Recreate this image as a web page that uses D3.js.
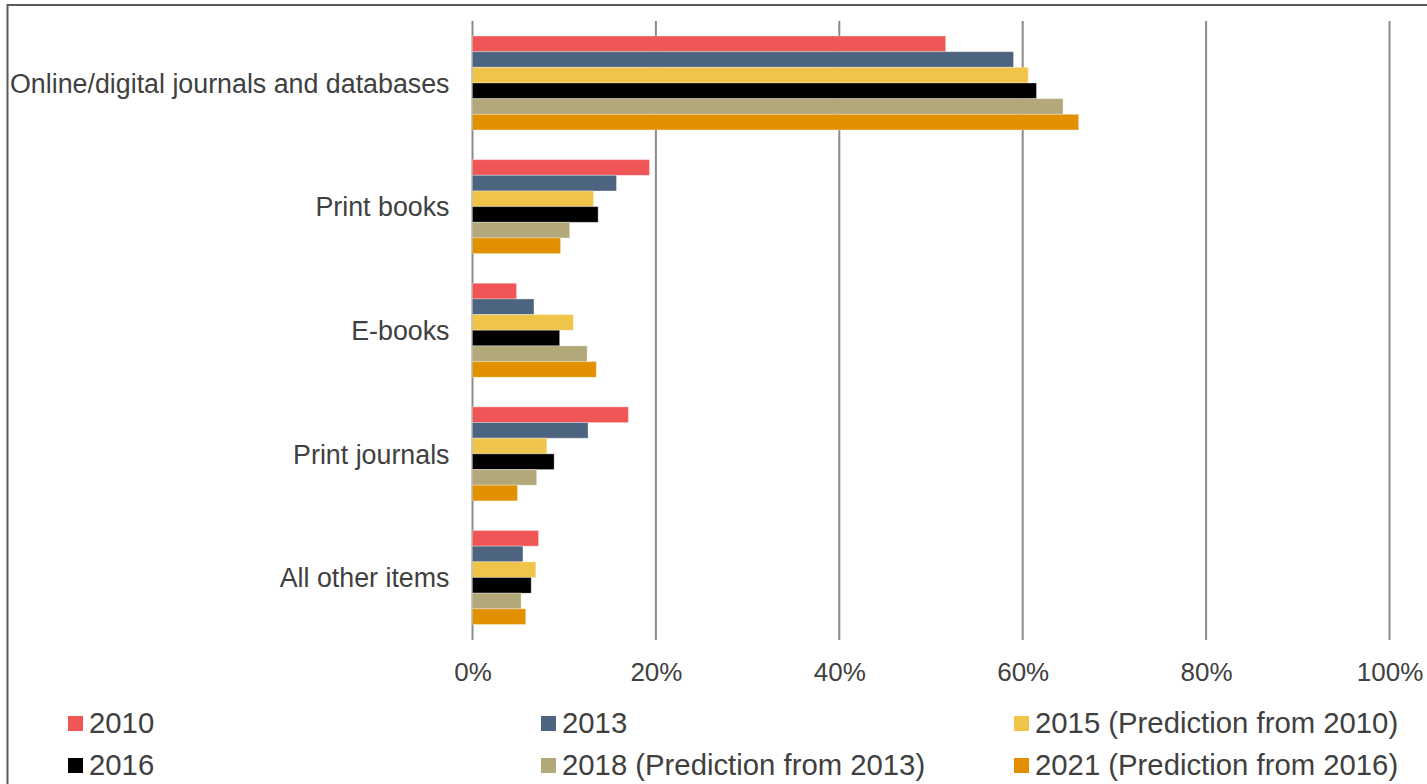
<!DOCTYPE html>
<html>
<head>
<meta charset="utf-8">
<script src="https://cdn.jsdelivr.net/npm/d3@7"></script>
<style>
  html, body { margin: 0; padding: 0; background: #fff; overflow: hidden; }
  svg { display: block; font-family: Arial, "Liberation Sans", sans-serif; }
</style>
</head>
<body>
<svg id="chart" width="1427" height="784"></svg>
<script>
// Share of spend by item type, per survey year / prediction
const categories = [
  "Online/digital journals and databases",
  "Print books",
  "E-books",
  "Print journals",
  "All other items"
];
const seriesNames = [
  "2010",
  "2013",
  "2015 (Prediction from 2010)",
  "2016",
  "2018 (Prediction from 2013)",
  "2021 (Prediction from 2016)"
];
const seriesColors = ["#F05656", "#4D6480", "#F0C449", "#000000", "#B3A87A", "#E39000"];

const values2010 = [51.6, 19.3, 4.8, 17.0, 7.2];
const values2013 = [59.0, 15.7, 6.7, 12.6, 5.5];
const values2015 = [60.6, 13.2, 11.0, 8.1, 6.9];
const values2016 = [61.5, 13.7, 9.5, 8.9, 6.4];
const values2018 = [64.4, 10.6, 12.5, 7.0, 5.3];
const values2021 = [66.1, 9.6, 13.5, 4.9, 5.8];
const seriesValues = [values2010, values2013, values2015, values2016, values2018, values2021];

const xTicks = [0, 20, 40, 60, 80, 100];

const svg = d3.select("#chart");
const textColor = "#404040";

// outer frame
svg.append("rect")
  .attr("x", 7.5).attr("y", 5)
  .attr("width", 1440).attr("height", 800)
  .attr("fill", "none").attr("stroke", "#5a5a5a").attr("stroke-width", 2);

const plotTop = 21, plotBottom = 640;
const x = d3.scaleLinear().domain([0, 100]).range([472.5, 1389.5]);
const y = d3.scaleBand().domain(categories).range([21.2, 639.3])
  .paddingInner(0.24).paddingOuter(0.12);
const ySeries = d3.scaleBand().domain(seriesNames).range([0, y.bandwidth()]).padding(0);

// vertical gridlines
svg.append("g").selectAll("line")
  .data(xTicks)
  .join("line")
  .attr("x1", d => x(d)).attr("x2", d => x(d))
  .attr("y1", plotTop).attr("y2", plotBottom)
  .attr("stroke", "#8a8a8a").attr("stroke-width", 2);

// bars
const groups = svg.append("g").selectAll("g")
  .data(categories)
  .join("g")
  .attr("transform", c => `translate(0,${y(c)})`);

groups.selectAll("rect")
  .data((c, ci) => seriesNames.map((s, si) => ({ s, si, v: seriesValues[si][ci] })))
  .join("rect")
  .attr("x", x(0))
  .attr("y", d => ySeries(d.s))
  .attr("width", d => x(d.v) - x(0))
  .attr("height", ySeries.bandwidth())
  .attr("fill", d => seriesColors[d.si])
  .attr("stroke", "#ffffff").attr("stroke-opacity", 0.3).attr("stroke-width", 1);

// category axis labels
const yAxis = d3.axisLeft(y).tickSize(0).tickPadding(23);
const yG = svg.append("g").attr("transform", `translate(${x(0)},0)`).call(yAxis);
yG.select(".domain").remove();
yG.selectAll("text")
  .attr("font-size", "26.8px")
  .attr("font-family", "Arial, 'Liberation Sans', sans-serif")
  .attr("fill", textColor)
  .attr("dy", "0.36em");

// percentage axis labels
const xAxis = d3.axisBottom(x).tickValues(xTicks).tickFormat(d => d + "%").tickSize(0).tickPadding(0);
const xG = svg.append("g").attr("transform", `translate(0,681)`).call(xAxis);
xG.select(".domain").remove();
xG.selectAll("text")
  .attr("font-size", "26px")
  .attr("font-family", "Arial, 'Liberation Sans', sans-serif")
  .attr("fill", textColor)
  .attr("y", 0).attr("dy", 0);

// legend
const legendCols = [68, 541, 1014];
const legendRows = [733, 775];
const legend = svg.append("g").selectAll("g")
  .data(seriesNames)
  .join("g")
  .attr("transform", (d, i) => `translate(${legendCols[i % 3]},${legendRows[Math.floor(i / 3)]})`);
legend.append("rect")
  .attr("x", 0).attr("y", -17).attr("width", 15).attr("height", 15)
  .attr("fill", (d, i) => seriesColors[i]);
legend.append("text")
  .attr("x", 21).attr("y", 0)
  .attr("font-size", "29.3px")
  .attr("fill", textColor)
  .text(d => d);
</script>
</body>
</html>
